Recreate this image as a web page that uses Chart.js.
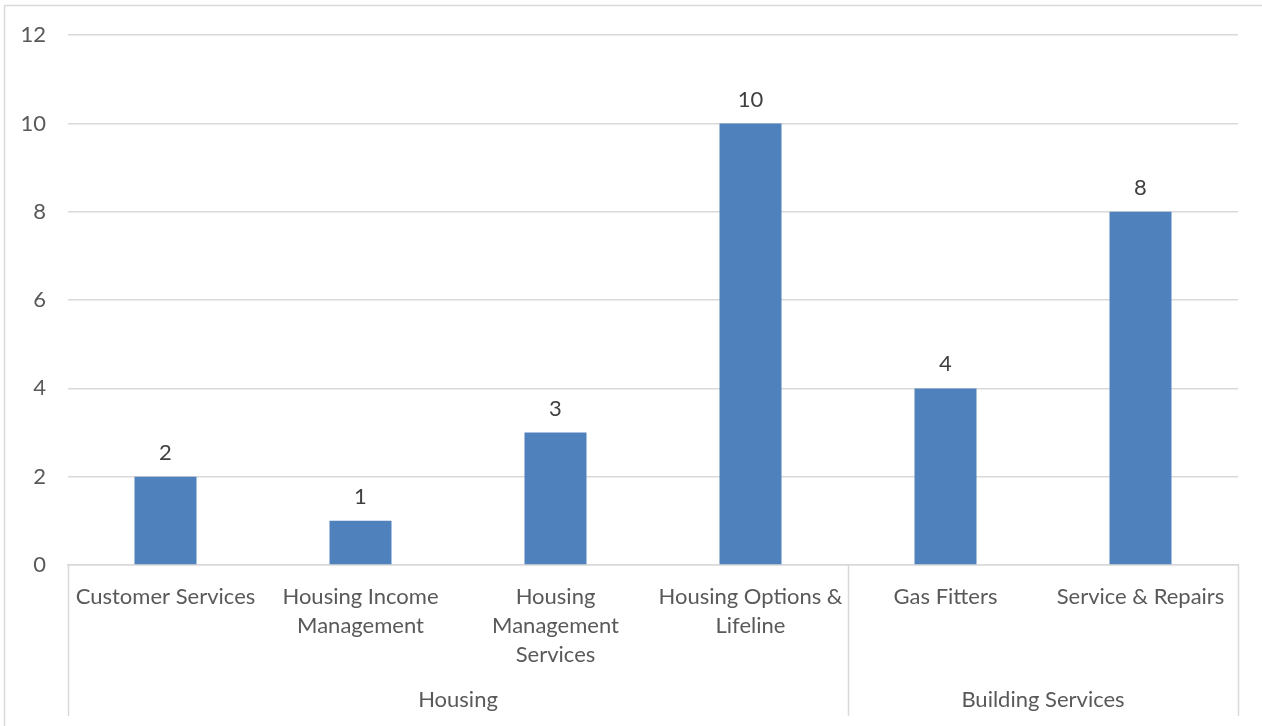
<!DOCTYPE html>
<html>
<head>
<meta charset="utf-8">
<script src="https://cdn.jsdelivr.net/npm/chart.js@4/dist/chart.umd.min.js"></script>
<style>
  body { margin: 0; background: #fff; }
  #wrap { width: 1262px; height: 726px; position: relative; }
</style>
</head>
<body>
<div id="wrap"><canvas id="staffChart"></canvas></div>
<script>
// categories (multi-line labels) and their groups
var categories = [
    ["Customer Services"],
    ["Housing Income", "Management"],
    ["Housing", "Management", "Services"],
    ["Housing Options &", "Lifeline"],
    ["Gas Fitters"],
    ["Service & Repairs"]
];
var groups = ["Housing", "Building Services"];
var groupSizes = [4, 2];
var values = [2, 1, 3, 10, 4, 8];
var yTicks = [0, 2, 4, 6, 8, 10, 12];

var FONT = "Lato, 'Open Sans', sans-serif";
var TEXT = "#595959";
var LINE = "#d9d9d9";

// value labels above bars
var barLabels = {
    id: "barLabels",
    afterDatasetsDraw: function (chart) {
        var ctx = chart.ctx;
        var meta = chart.getDatasetMeta(0);
        ctx.save();
        ctx.font = "22px " + FONT;
        ctx.fillStyle = "#404040";
        ctx.textAlign = "center";
        ctx.textBaseline = "middle";
        meta.data.forEach(function (bar, i) {
            ctx.fillText(String(values[i]), bar.x, bar.y - 24);
        });
        ctx.restore();
    }
};

// group boxes below the category labels + outer chart border
var groupAxis = {
    id: "groupAxis",
    afterDraw: function (chart) {
        var ctx = chart.ctx;
        var x = chart.scales.x;
        var top = chart.chartArea.bottom;
        var bottom = 716;
        var half = (x.getPixelForValue(1) - x.getPixelForValue(0)) / 2;
        ctx.save();
        ctx.strokeStyle = LINE;
        ctx.lineWidth = 1.5;
        // outer border (left and top edges visible)
        ctx.beginPath();
        ctx.moveTo(4.5, 730);
        ctx.lineTo(4.5, 5.5);
        ctx.lineTo(1270, 5.5);
        ctx.stroke();

        ctx.font = "22px " + FONT;
        ctx.fillStyle = TEXT;
        ctx.textAlign = "center";
        ctx.textBaseline = "middle";
        var start = 0;
        var edges = [x.getPixelForValue(0) - half];
        groups.forEach(function (g, gi) {
            var end = start + groupSizes[gi] - 1;
            var left = x.getPixelForValue(start) - half;
            var right = x.getPixelForValue(end) + half;
            edges.push(right);
            ctx.fillText(g, (left + right) / 2, 700);
            start = end + 1;
        });
        ctx.beginPath();
        edges.forEach(function (ex) {
            ex = Math.round(ex) + 0.5;
            ctx.moveTo(ex, top);
            ctx.lineTo(ex, bottom);
        });
        ctx.stroke();
        ctx.restore();
    }
};

var ctx = document.getElementById("staffChart").getContext("2d");
var staffChart = new Chart(ctx, {
    type: "bar",
    data: {
        labels: categories,
        datasets: [
            {
                label: "Staff",
                data: values,
                backgroundColor: "#4f81bd",
                borderWidth: 0,
                barPercentage: 1,
                categoryPercentage: 0.318
            }
        ]
    },
    options: {
        responsive: true,
        maintainAspectRatio: false,
        animation: false,
        layout: { padding: { top: 22, right: 24, left: 0, bottom: 0 } },
        plugins: {
            legend: { display: false },
            tooltip: { enabled: false }
        },
        scales: {
            x: {
                grid: { display: false },
                border: { color: LINE, width: 1.5 },
                ticks: {
                    color: TEXT,
                    font: { family: FONT, size: 22, lineHeight: 1.32 },
                    padding: 9,
                    maxRotation: 0,
                    autoSkip: false
                },
                afterFit: function (scale) { scale.height = 161; }
            },
            y: {
                min: 0,
                max: 12,
                afterBuildTicks: function (scale) {
                    scale.ticks = yTicks.map(function (v) { return { value: v }; });
                },
                grid: { color: LINE, lineWidth: 1.5, drawTicks: false },
                border: { display: false },
                ticks: {
                    color: TEXT,
                    font: { family: FONT, size: 22 },
                    padding: 22
                },
                afterFit: function (scale) { scale.width = 68; }
            }
        }
    },
    plugins: [barLabels, groupAxis]
});
</script>
</body>
</html>
